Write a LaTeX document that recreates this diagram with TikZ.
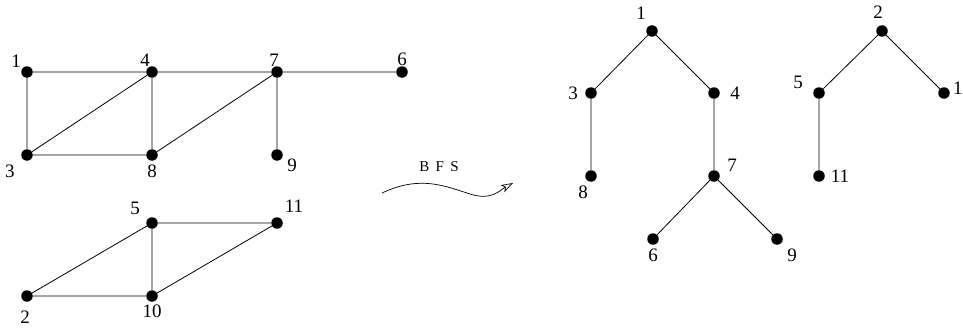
\documentclass[tikz,border=0pt]{standalone}
\usepackage{fontspec}
\setmainfont{Liberation Serif}
\usetikzlibrary{arrows.meta}
\begin{document}
\begin{tikzpicture}[x=1pt,y=-1pt,
  dot/.style={circle,fill=black,inner sep=0pt,minimum size=11.5pt},
  lab/.style={inner sep=0pt,font=\fontsize{19}{21}\selectfont},
  edge/.style={line width=0.8pt,black}]
\useasboundingbox (0,0) rectangle (963,329);
% left graph
\node[dot] (a1) at (27,72) {};
\node[dot] (a4) at (152,72) {};
\node[dot] (a7) at (277,72) {};
\node[dot] (a6) at (402,72) {};
\node[dot] (a3) at (27,155) {};
\node[dot] (a8) at (152,155) {};
\node[dot] (a9) at (277,155) {};
\node[dot] (a5) at (152,223) {};
\node[dot] (a11) at (277,223) {};
\node[dot] (a2) at (27,296) {};
\node[dot] (a10) at (152,296) {};
\node[lab] (la1) at (16,61) {1};
\node[lab] (la4) at (145,60) {4};
\node[lab] (la7) at (274,60) {7};
\node[lab] (la6) at (402,59) {6};
\node[lab] (la3) at (10,171) {3};
\node[lab] (la8) at (152,171) {8};
\node[lab] (la9) at (292,165) {9};
\node[lab] (la5) at (135,208) {5};
\node[lab] (la11) at (294,206) {11};
\node[lab] (la2) at (25,317) {2};
\node[lab] (la10) at (152,311) {10};
\draw[edge] (a1)--(a4) (a4)--(a7) (a7)--(a6) (a1)--(a3) (a3)--(a4) (a4)--(a8)
  (a3)--(a8) (a8)--(a7) (a7)--(a9);
\draw[edge] (a2)--(a5) (a5)--(a11) (a5)--(a10) (a2)--(a10) (a10)--(a11);
% arrow
\coordinate (s) at (382,193);
\coordinate (m) at (470,194);
\coordinate (e) at (513,183);
\draw[line width=0.7pt,-{Stealth[open,length=12pt,width=8pt,inset=3pt]}] (s) .. controls (420,175) and (445,186) .. (m) .. controls (492,201) and (500,190) .. (e);
\node[inner sep=0pt,font=\fontsize{15}{17}\selectfont] (bfs) at (439,167) {B\ \,F\ \,S};
% tree 1
\node[dot] (b1) at (652,31) {};
\node[dot] (b3) at (591,93) {};
\node[dot] (b4) at (714,93) {};
\node[dot] (b8) at (591,176) {};
\node[dot] (b7) at (714,176) {};
\node[dot] (b6) at (653,239) {};
\node[dot] (b9) at (777,239) {};
\node[lab] (lb1) at (641,13) {1};
\node[lab] (lb3) at (573,93) {3};
\node[lab] (lb4) at (735,93) {4};
\node[lab] (lb8) at (583,192) {8};
\node[lab] (lb7) at (732,165) {7};
\node[lab] (lb6) at (653,255) {6};
\node[lab] (lb9) at (792,255) {9};
\draw[edge] (b1)--(b3) (b1)--(b4) (b3)--(b8) (b4)--(b7) (b7)--(b6) (b7)--(b9);
% tree 2
\node[dot] (c2) at (882,31) {};
\node[dot] (c5) at (819,93) {};
\node[dot] (c10) at (944,93) {};
\node[dot] (c11) at (819,176) {};
\node[lab] (lc2) at (878,12) {2};
\node[lab] (lc5) at (798,82) {5};
\node[lab,anchor=west] (lc10) at (953,88) {1};
\node[lab] (lc11) at (840,176) {11};
\draw[edge] (c2)--(c5) (c2)--(c10) (c5)--(c11);
\end{tikzpicture}
\end{document}
